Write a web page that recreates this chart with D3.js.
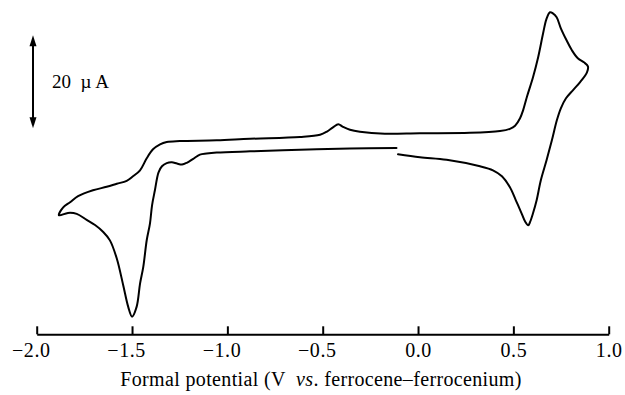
<!DOCTYPE html>
<html>
<head>
<meta charset="utf-8">
<script src="https://cdn.jsdelivr.net/npm/d3@7"></script>
<style>
  html, body { margin: 0; padding: 0; background: #fff; }
  svg { display: block; }
</style>
</head>
<body>
<svg id="chart" width="625" height="395"></svg>
<script>
// Potential (V vs. ferrocene–ferrocenium), traced in scan order
const potential = [
  -0.113, -0.357, -0.619, -0.881, -1.056, -1.109, -1.144, -1.179, -1.213, -1.238,
  -1.264, -1.291, -1.318, -1.343, -1.361, -1.380, -1.395, -1.406, -1.423, -1.441,
  -1.458, -1.476, -1.500, -1.520, -1.546, -1.580, -1.616, -1.651, -1.694, -1.738,
  -1.790, -1.836, -1.883,
  -1.861, -1.825, -1.783, -1.705, -1.633, -1.580, -1.528, -1.495, -1.458, -1.423,
  -1.390, -1.353, -1.318, -1.249, -1.056, -0.881, -0.619, -0.514, -0.478, -0.446,
  -0.418, -0.394, -0.357, -0.305, -0.174, 0.010, 0.272, 0.430, 0.482, 0.509,
  0.535, 0.551, 0.572, 0.603, 0.630, 0.656, 0.673, 0.692, 0.707, 0.727,
  0.749, 0.779, 0.807, 0.838, 0.870, 0.891,
  0.886, 0.849, 0.812, 0.776, 0.749, 0.728, 0.702, 0.674, 0.644, 0.622,
  0.603, 0.587, 0.578, 0.561, 0.543, 0.513, 0.482, 0.440, 0.393, 0.325,
  0.150, 0.010, -0.105
];
// Current (µA), same order
const current = [
  0.06, -0.06, -0.32, -0.65, -0.92, -1.12, -1.35, -2.26, -3.12, -3.48,
  -3.29, -3.01, -3.18, -3.87, -5.16, -9.03, -12.26, -16.19, -19.78, -25.5,
  -29.1, -34.1, -36.2, -34.1, -29.5, -23.7, -19.8, -18.0, -16.5, -15.4,
  -14.1, -13.9, -14.4,
  -12.7, -11.6, -10.3, -9.03, -8.28, -7.63, -6.99, -6.02, -4.73, -2.15,
  -0.22, 0.86, 1.35, 1.55, 1.72, 2.04, 2.41, 2.90, 3.59, 4.52,
  5.16, 4.62, 3.98, 3.55, 3.12, 3.23, 3.33, 3.72, 4.19, 4.84,
  6.45, 8.17, 11.18, 15.27, 19.57, 24.73, 27.74, 29.25, 29.03, 28.17,
  25.81, 23.23, 21.08, 19.35, 18.49, 17.63,
  16.34, 14.19, 12.47, 10.75, 8.60, 6.02, 1.72, -2.58, -6.88, -11.18,
  -13.98, -15.91, -16.56, -15.70, -13.98, -11.18, -8.39, -6.02, -4.73, -3.87,
  -2.47, -1.94, -1.29
];
const xTicks = [-2.0, -1.5, -1.0, -0.5, 0.0, 0.5, 1.0];
const scaleBarCurrent = [4.3, 24.3];  // 20 µA scale bar
const scaleBarLabel = "20\u2002\u00b5\u2009A";
const xTitleParts = [
  { text: "Formal potential (V\u2002", italic: false },
  { text: "vs", italic: true },
  { text: ". ferrocene\u2013ferrocenium)", italic: false }
];

const svg = d3.select("#chart");
const font = "'Liberation Serif', 'Times New Roman', serif";

const x = d3.scaleLinear().domain([-2, 1]).range([36.7, 608.7]);
const y = d3.scaleLinear().domain([-40, 30]).range([334.3, 8.8]);

const pts = potential.map((v, i) => [v, current[i]]);

// Curve
svg.append("path")
  .datum(pts)
  .attr("fill", "none")
  .attr("stroke", "#000")
  .attr("stroke-width", 2)
  .attr("stroke-linejoin", "round")
  .attr("stroke-linecap", "round")
  .attr("d", d3.line().x(d => x(d[0])).y(d => y(d[1])).curve(d3.curveCatmullRom.alpha(0.5)));

// X axis
const fmt = d3.format(".1f");
const tickFont = "20px";
const axis = svg.append("g")
  .attr("transform", `translate(0,${y(-40)})`)
  .call(d3.axisBottom(x).tickValues(xTicks).tickSizeInner(-8).tickSizeOuter(0)
        .tickPadding(0).tickFormat(d => fmt(Math.abs(d))));
axis.select(".domain").attr("stroke", "#000").attr("stroke-width", 2);
axis.selectAll(".tick line").attr("stroke", "#000").attr("stroke-width", 2);
axis.selectAll(".tick text")
  .attr("y", 22.5)
  .attr("dy", 0)
  .attr("fill", "#000")
  .style("font-family", font)
  .style("font-size", tickFont)
  .style("letter-spacing", "0.6px")
  .each(function(d) {
    if (d < 0) {
      const w = this.getComputedTextLength();
      d3.select(this.parentNode).append("text")
        .attr("x", -w / 2 - 0.5)
        .attr("y", 22.5)
        .attr("text-anchor", "end")
        .attr("fill", "#000")
        .style("font-family", font)
        .style("font-size", tickFont)
        .text("\u2212");
    }
  });

// X title
const title = svg.append("text")
  .attr("x", 321)
  .attr("y", 386)
  .attr("text-anchor", "middle")
  .attr("fill", "#000")
  .style("font-family", font)
  .style("font-size", "20px")
  .style("letter-spacing", "0.35px");
title.selectAll("tspan").data(xTitleParts).join("tspan")
  .style("font-style", d => d.italic ? "italic" : "normal")
  .text(d => d.text);

// Scale bar
const barX = 33;
const yTop = y(scaleBarCurrent[1]), yBot = y(scaleBarCurrent[0]);
svg.append("line")
  .attr("x1", barX).attr("x2", barX)
  .attr("y1", yTop + 6).attr("y2", yBot - 6)
  .attr("stroke", "#000").attr("stroke-width", 2);
svg.append("path")
  .attr("d", `M${barX},${yTop} L${barX - 3.5},${yTop + 11} L${barX + 3.5},${yTop + 11} Z`)
  .attr("fill", "#000");
svg.append("path")
  .attr("d", `M${barX},${yBot} L${barX - 3.5},${yBot - 11} L${barX + 3.5},${yBot - 11} Z`)
  .attr("fill", "#000");
svg.append("text")
  .attr("x", 52)
  .attr("y", (yTop + yBot) / 2 + 6.5)
  .attr("fill", "#000")
  .style("font-family", font)
  .style("font-size", "19px")
  .text(scaleBarLabel);
</script>
</body>
</html>
